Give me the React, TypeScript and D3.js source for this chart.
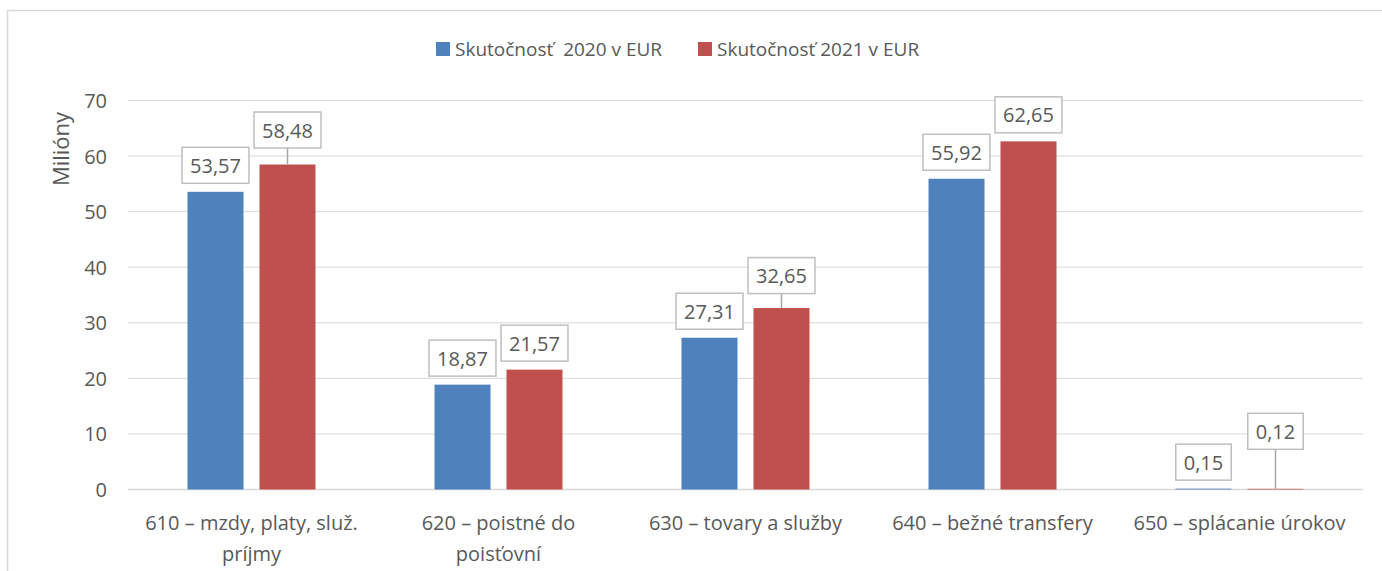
import React from "react";
import * as d3 from "d3";

const categories = [
  "610 – mzdy, platy, služ. príjmy",
  "620 – poistné do poisťovní",
  "630 – tovary a služby",
  "640 – bežné transfery",
  "650 – splácanie úrokov",
];
const seriesNames = ["Skutočnosť  2020 v EUR", "Skutočnosť 2021 v EUR"];
const values2020 = [53.57, 18.87, 27.31, 55.92, 0.15];
const values2021 = [58.48, 21.57, 32.65, 62.65, 0.12];
const yTicks = [0, 10, 20, 30, 40, 50, 60, 70];
const yTitle = "Milióny";

// layout / style (not data)
const W = 1382;
const H = 571;
const colors = ["#4F81BD", "#C0504D"];
const textColor = "#595959";
const gridColor = "#D9D9D9";
const FONT = '"Open Sans", "Liberation Sans", sans-serif';
// extra upward displacement of 2021 labels (px), Excel moved these to avoid overlaps
const lift2021 = [8, 0, 6, 0, 31];

const fmt = (v: number) => d3.format(".2f")(v).replace(".", ",");

let measureCtx: CanvasRenderingContext2D | null = null;
function measure(text: string, size: number) {
  if (!measureCtx) measureCtx = document.createElement("canvas").getContext("2d");
  if (!measureCtx) return text.length * size * 0.55;
  measureCtx.font = `${size}px "Open Sans"`;
  return measureCtx.measureText(text).width;
}

function wrap(text: string, maxW: number, size: number): string[] {
  const words = text.split(" ");
  const lines: string[] = [];
  let cur = "";
  for (const w of words) {
    const t = cur ? cur + " " + w : w;
    if (measure(t, size) > maxW && cur) {
      lines.push(cur);
      cur = w;
    } else cur = t;
  }
  if (cur) lines.push(cur);
  return lines;
}

export default function App() {
  const x0 = d3.scaleBand<string>().domain(categories).range([128, 1363]).padding(0);
  const y = d3.scaleLinear().domain([0, 70]).range([489.5, 100.5]);
  const groupW = 128;
  const x1 = d3
    .scaleBand<number>()
    .domain([0, 1])
    .range([0, groupW])
    .paddingInner(0.222);

  const series = [values2020, values2021];
  const labelSize = 20;
  const boxH = 36;
  const padX = 8;

  const bars: JSX.Element[] = [];
  const labels: JSX.Element[] = [];
  categories.forEach((c, i) => {
    const gx = (x0(c) as number) + x0.bandwidth() / 2 - groupW / 2;
    series.forEach((vals, s) => {
      const v = vals[i];
      const bx = gx + (x1(s) as number);
      const bw = x1.bandwidth();
      const top = y(v);
      bars.push(
        <rect key={`b${i}-${s}`} x={bx} y={top} width={bw} height={y(0) - top} fill={colors[s]} />
      );
      const txt = fmt(v);
      const tw = measure(txt, labelSize);
      const boxW = tw + padX * 2;
      const cx = bx + bw / 2;
      const lift = s === 1 ? lift2021[i] : 0;
      const bottom = top - 8.5 - lift;
      labels.push(
        <g key={`l${i}-${s}`}>
          {lift > 0 && (
            <line x1={cx} x2={cx} y1={bottom} y2={top} stroke="#A6A6A6" strokeWidth={1.5} />
          )}
          <rect
            x={cx - boxW / 2}
            y={bottom - boxH}
            width={boxW}
            height={boxH}
            fill="#FFFFFF"
            stroke="#BFBFBF"
            strokeWidth={1.5}
          />
          <text
            x={cx}
            y={bottom - boxH / 2}
            textAnchor="middle"
            dominantBaseline="central"
            fontSize={labelSize}
            fill={textColor}
          >
            {txt}
          </text>
        </g>
      );
    });
  });

  const legendItems = [
    { x: 436, name: seriesNames[0], color: colors[0] },
    { x: 698, name: seriesNames[1], color: colors[1] },
  ];

  return (
    <svg
      width={W}
      height={H}
      style={{ position: "absolute", left: 0, top: 0, fontFamily: FONT }}
    >
      <rect x={0} y={0} width={W} height={H} fill="#FFFFFF" />
      <path d={`M7.5,${H + 5} V10.5 H${W + 5}`} fill="none" stroke={gridColor} strokeWidth={1.5} />

      {/* legend */}
      {legendItems.map((d, i) => (
        <g key={i}>
          <rect x={d.x} y={42} width={14} height={14} fill={d.color} />
          <text
            x={d.x + 19}
            y={49}
            dominantBaseline="central"
            fontSize={19}
            fill={textColor}
            style={{ whiteSpace: "pre" }}
          >
            {d.name}
          </text>
        </g>
      ))}

      {/* grid + y ticks */}
      {yTicks.map((t) => (
        <g key={t}>
          <line x1={128} x2={1363} y1={y(t)} y2={y(t)} stroke={gridColor} strokeWidth={t === 0 ? 1.5 : 1} />
          <text
            x={107}
            y={y(t)}
            textAnchor="end"
            dominantBaseline="central"
            fontSize={20}
            fill={textColor}
          >
            {t}
          </text>
        </g>
      ))}

      <text
        transform={`translate(60,149) rotate(-90)`}
        textAnchor="middle"
        dominantBaseline="central"
        fontSize={22}
        fill={textColor}
      >
        {yTitle}
      </text>

      {bars}
      {labels}

      {/* x labels */}
      {categories.map((c) => {
        const lines = wrap(c, x0.bandwidth() - 14, 20);
        const cx = (x0(c) as number) + x0.bandwidth() / 2;
        return (
          <text key={c} textAnchor="middle" fontSize={20} fill={textColor}>
            {lines.map((ln, k) => (
              <tspan key={k} x={cx} y={522 + k * 31} dominantBaseline="central">
                {ln}
              </tspan>
            ))}
          </text>
        );
      })}
    </svg>
  );
}
